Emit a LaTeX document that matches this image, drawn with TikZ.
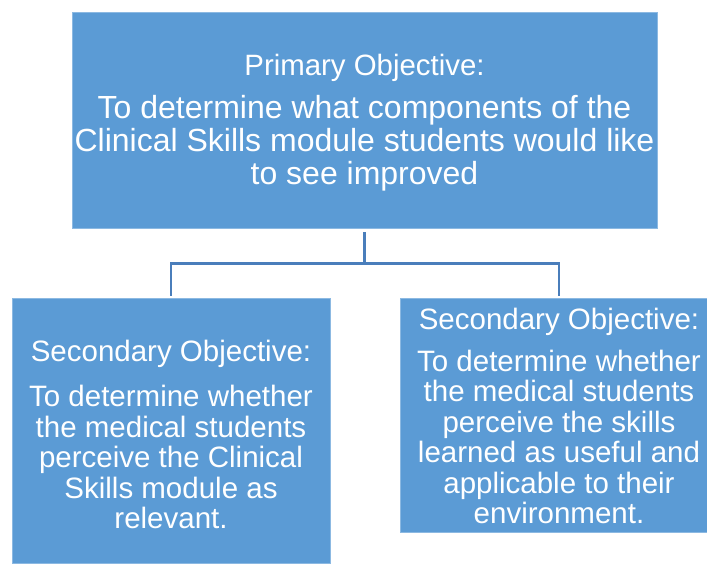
\documentclass[tikz,border=0pt]{standalone}
\usepackage{fontspec}
\setmainfont{Liberation Sans}
\definecolor{boxblue}{HTML}{5B9BD5}
\definecolor{linkblue}{HTML}{4A7EBB}
\begin{document}
\begin{tikzpicture}[x=1pt,y=1pt,
  objbox/.style={draw=boxblue!70!white, line width=0.6pt, fill=boxblue, inner sep=0pt, anchor=center},
  objtext/.style={text=white, align=center, inner sep=0pt, anchor=center},
  link/.style={draw=linkblue, line width=2.6pt}]
\useasboundingbox (0,0) rectangle (707,563);
\begin{scope}
\clip (0,0) rectangle (707,563);
\node[objbox, minimum width=585pt, minimum height=216pt] (top) at (364.5,443) {};
\node[objbox, minimum width=318pt, minimum height=265pt] (left) at (171,132.5) {};
\node[objbox, minimum width=318pt, minimum height=234pt] (right) at (559,148) {};
\end{scope}
\node[objtext, font=\fontsize{32}{33}\selectfont] (toptext) at ([yshift=-3pt]top.center)
 {{\fontsize{29.4}{33}\selectfont Primary Objective:}\\[10pt]
  To determine what components of the\\
  Clinical Skills module students would like\\
  to see improved};
\node[objtext, font=\fontsize{29.5}{30.5}\selectfont] (lefttext) at ([yshift=-4pt]left.center)
 {Secondary Objective:\\[14.5pt]
  To determine whether\\
  the medical students\\
  perceive the Clinical\\
  Skills module as\\
  relevant.};
\node[objtext, font=\fontsize{29.5}{30.5}\selectfont] (righttext) at ([yshift=-1pt]right.center)
 {Secondary Objective:\\[11.5pt]
  To determine whether\\
  the medical students\\
  perceive the skills\\
  learned as useful and\\
  applicable to their\\
  environment.};
\coordinate (hub) at ([yshift=-35pt]top.south);
\draw[link] ([yshift=-4pt]top.south) -- (hub);
\draw[link] (hub) -| ([yshift=2pt]left.north);
\draw[link] (hub) -| ([yshift=2pt]right.north);
\end{tikzpicture}
\end{document}
